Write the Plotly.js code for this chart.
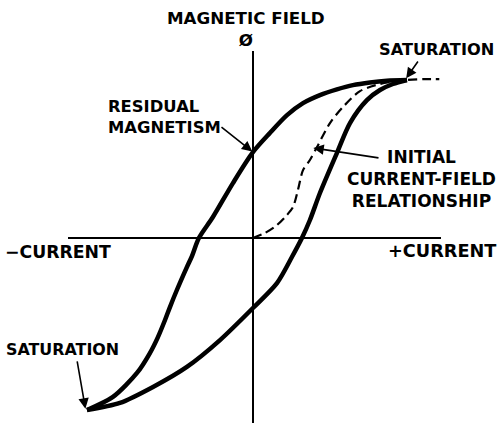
<!DOCTYPE html>
<html>
<head>
<meta charset="utf-8">
<script src="https://cdn.plot.ly/plotly-3.0.1.min.js"></script>
<style>
  html, body { margin: 0; padding: 0; background: #fff; }
  #chart { width: 498px; height: 423px; }
</style>
</head>
<body>
<div id="chart"></div>
<script>
  // Hysteresis loop, current (x) vs magnetic field (y), saturation = 1
  // Descending branch: saturation -> residual magnetism -> negative saturation
  const upperCurrent = [1.000, 0.870, 0.760, 0.649, 0.545, 0.435, 0.325, 0.221, 0.110, 0.000,
    -0.130, -0.260, -0.351, -0.396, -0.429, -0.494, -0.539, -0.571, -0.617, -0.669, -0.753, -0.909, -1.078];
  const upperField = [1.000, 0.996, 0.985, 0.968, 0.941, 0.905, 0.854, 0.778, 0.665, 0.544,
    0.348, 0.133, 0.000, -0.114, -0.184, -0.329, -0.437, -0.519, -0.627, -0.728, -0.854, -1.006, -1.089];

  // Ascending branch: negative saturation -> positive saturation
  const lowerCurrent = [-1.078, -0.864, -0.649, -0.429, -0.214, 0.000, 0.156, 0.253, 0.318,
    0.370, 0.435, 0.545, 0.630, 0.740, 0.825, 0.909, 1.000];
  const lowerField = [-1.089, -1.044, -0.943, -0.816, -0.646, -0.443, -0.285, -0.120, 0.000,
    0.114, 0.285, 0.538, 0.728, 0.873, 0.937, 0.975, 1.000];

  // Initial magnetisation curve (dashed), from the origin
  const initCurrent = [0.000, 0.078, 0.156, 0.221, 0.260, 0.292, 0.325, 0.370, 0.416, 0.500,
    0.584, 0.695, 0.825, 1.000, 1.117, 1.210];
  const initField = [0.000, 0.032, 0.082, 0.146, 0.196, 0.304, 0.430, 0.494, 0.576, 0.728,
    0.829, 0.930, 0.975, 1.000, 1.006, 1.006];

  const font = { family: 'DejaVu Sans, Arial, sans-serif', color: '#000', weight: 700 };

  const loopLine = { color: '#000', width: 4.5, shape: 'spline', smoothing: 0.8 };

  const data = [
    { x: upperCurrent, y: upperField, mode: 'lines', line: loopLine, hoverinfo: 'skip' },
    { x: lowerCurrent, y: lowerField, mode: 'lines', line: loopLine, hoverinfo: 'skip' },
    {
      x: initCurrent, y: initField, mode: 'lines', hoverinfo: 'skip',
      line: { color: '#000', width: 2.2, dash: '9px,5px', shape: 'spline', smoothing: 0.8 }
    }
  ];

  // text label helper (paper coords so labels may sit outside the axes)
  function label(text, x, y, size, anchor) {
    return {
      text: text, x: x, y: y, xref: 'paper', yref: 'paper',
      xanchor: anchor || 'center', yanchor: 'middle', align: anchor || 'center',
      showarrow: false, borderpad: 0,
      font: Object.assign({}, font, { size: size })
    };
  }

  // arrow helper (head at x,y; tail at ax,ay; data coords)
  function pointer(x, y, ax, ay) {
    return {
      text: '', x: x, y: y, ax: ax, ay: ay, xref: 'x', yref: 'y', axref: 'x', ayref: 'y',
      showarrow: true, arrowhead: 2, arrowsize: 1.3, arrowwidth: 1.6, arrowcolor: '#000'
    };
  }

  const annotations = [
    label('MAGNETIC FIELD<br>Ø', 0.477, 1.059, 16.7),
    label('SATURATION', 0.989, 1.003, 16.2),
    label('RESIDUAL<br>MAGNETISM', 0.104, 0.823, 16.4, 'left'),
    label('INITIAL<br>CURRENT-FIELD<br>RELATIONSHIP', 0.947, 0.656, 17),
    label('−CURRENT', -0.027, 0.461, 17.3),
    label('+CURRENT', 1.004, 0.462, 17.7),
    label('SATURATION', -0.015, 0.198, 15.9),
    pointer(0.995, 1.012, 1.078, 1.127),
    pointer(-0.004, 0.548, -0.214, 0.709),
    pointer(0.392, 0.570, 0.825, 0.506),
    pointer(-1.088, -1.080, -1.143, -0.772)
  ];

  const hiddenAxis = {
    showgrid: false, showticklabels: false, ticks: '', showline: false,
    zeroline: true, zerolinecolor: '#000', zerolinewidth: 1.5, fixedrange: true
  };

  const layout = {
    width: 498,
    height: 423,
    margin: { l: 68, r: 57, t: 51, b: 0 },
    paper_bgcolor: '#fff',
    plot_bgcolor: '#fff',
    showlegend: false,
    hovermode: false,
    xaxis: Object.assign({ range: [-1.201, 1.221] }, hiddenAxis),
    yaxis: Object.assign({ range: [-1.171, 1.184] }, hiddenAxis),
    annotations: annotations
  };

  Plotly.newPlot('chart', data, layout, { displayModeBar: false, staticPlot: true });
</script>
</body>
</html>
